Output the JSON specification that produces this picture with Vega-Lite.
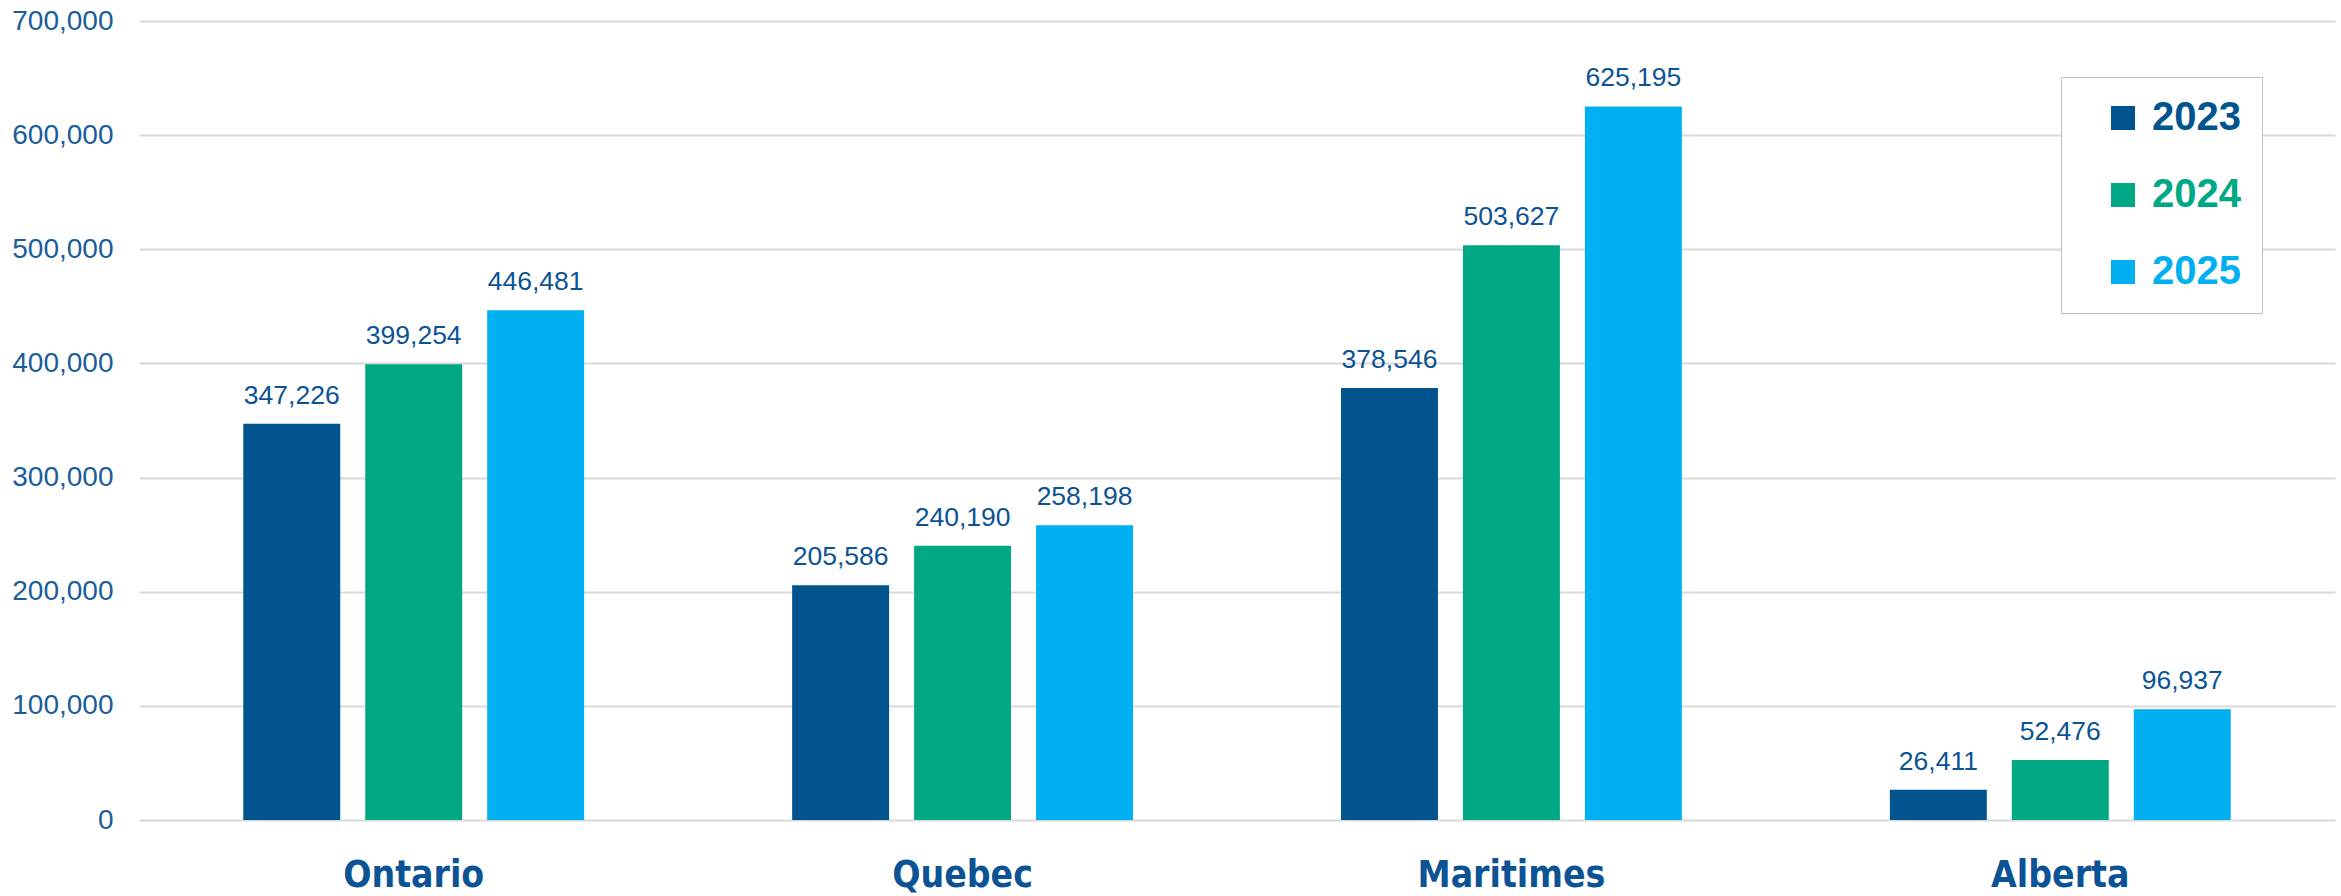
{
  "$schema": "https://vega.github.io/schema/vega-lite/v6.json",
  "autosize": {"type": "none"},
  "padding": {"left": 139, "top": 21, "right": 6, "bottom": 76},
  "width": 2196,
  "height": 799,
  "background": "white",
  "config": {
    "view": {"stroke": null},
    "font": "Liberation Sans"
  },
  "data": {
    "values": [
      {"region": "Ontario", "year": "2023", "value": 347226},
      {"region": "Ontario", "year": "2024", "value": 399254},
      {"region": "Ontario", "year": "2025", "value": 446481},
      {"region": "Quebec", "year": "2023", "value": 205586},
      {"region": "Quebec", "year": "2024", "value": 240190},
      {"region": "Quebec", "year": "2025", "value": 258198},
      {"region": "Maritimes", "year": "2023", "value": 378546},
      {"region": "Maritimes", "year": "2024", "value": 503627},
      {"region": "Maritimes", "year": "2025", "value": 625195},
      {"region": "Alberta", "year": "2023", "value": 26411},
      {"region": "Alberta", "year": "2024", "value": 52476},
      {"region": "Alberta", "year": "2025", "value": 96937}
    ]
  },
  "encoding": {
    "x": {
      "field": "region",
      "type": "nominal",
      "sort": ["Ontario", "Quebec", "Maritimes", "Alberta"],
      "scale": {"paddingInner": 0.379, "paddingOuter": 0.19},
      "axis": {
        "title": null,
        "labelAngle": 0,
        "domain": false,
        "ticks": false,
        "labelFont": "DejaVu Sans Condensed, Liberation Sans",
        "labelFontSize": 37,
        "labelFontWeight": "bold",
        "labelColor": "#0B5394",
        "labelPadding": 37,
        "labelLimit": 0
      }
    },
    "xOffset": {
      "field": "year",
      "type": "nominal",
      "scale": {"paddingInner": 0.205, "paddingOuter": 0}
    },
    "y": {
      "field": "value",
      "type": "quantitative",
      "scale": {"domain": [0, 700000], "nice": false},
      "axis": {
        "title": null,
        "domain": false,
        "ticks": false,
        "values": [0, 100000, 200000, 300000, 400000, 500000, 600000, 700000],
        "format": ",d",
        "labelFontSize": 28,
        "labelColor": "#1A5D9A",
        "labelPadding": 26,
        "grid": true,
        "gridColor": "#D9D9D9",
        "gridWidth": 2
      }
    }
  },
  "layer": [
    {
      "mark": {"type": "bar"},
      "encoding": {
        "color": {
          "field": "year",
          "type": "nominal",
          "scale": {"domain": ["2023", "2024", "2025"], "range": ["#02548F", "#00A886", "#00B0F0"]},
          "legend": {
            "title": null,
            "orient": "none",
            "legendX": 1922,
            "legendY": 56,
            "strokeColor": "#BFBFBF",
            "fillColor": "white",
            "padding": 21,
            "symbolOffset": 21,
            "symbolType": "square",
            "symbolSize": 576,
            "symbolStrokeWidth": 0,
            "labelFont": "Liberation Sans",
            "labelFontSize": 40,
            "labelFontWeight": "bold",
            "labelOffset": 9,
            "rowPadding": 37,
            "encode": {
              "labels": {"update": {"fill": {"scale": "color", "field": "value"}}}
            }
          }
        }
      }
    },
    {
      "mark": {"type": "text", "baseline": "alphabetic", "align": "center", "dy": -20, "fontSize": 26.5, "color": "#0B5394"},
      "encoding": {
        "text": {"field": "value", "type": "quantitative", "format": ",d"}
      }
    }
  ]
}
